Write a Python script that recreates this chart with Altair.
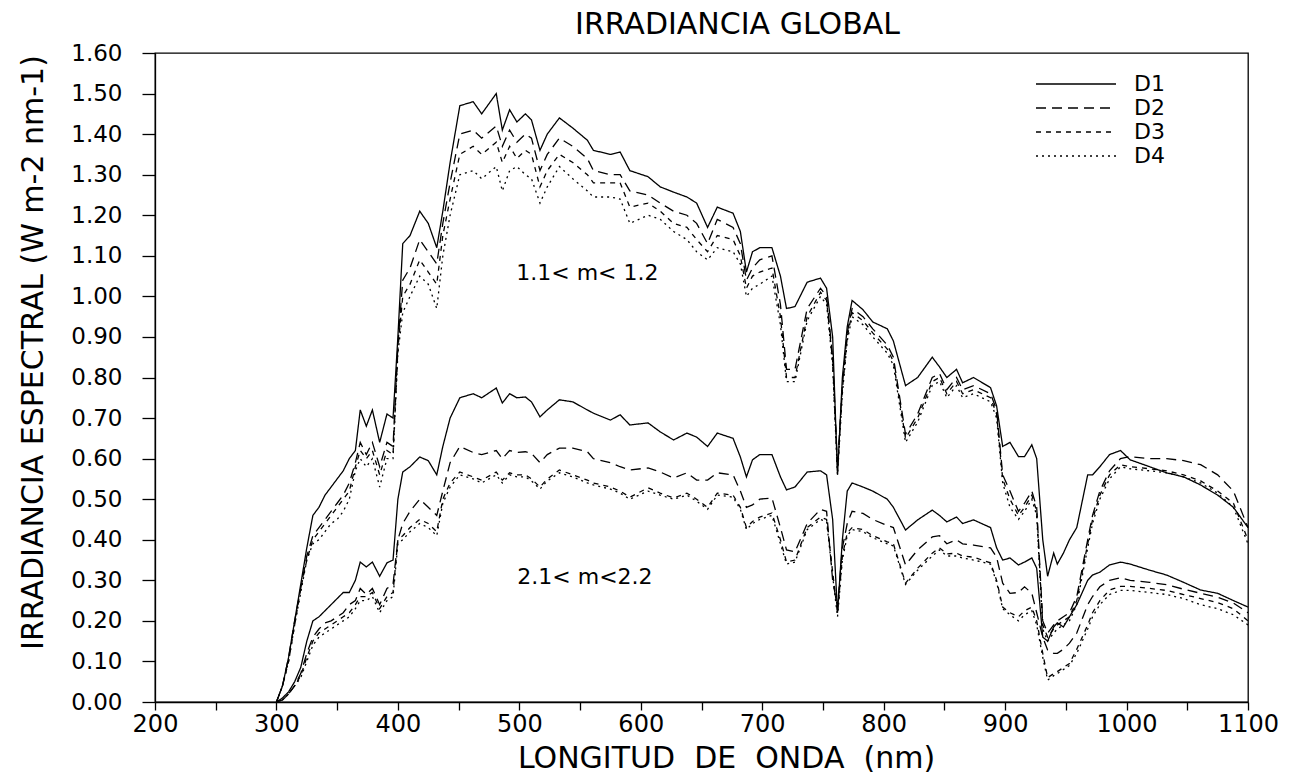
import altair as alt
import pandas as pd

# Wavelength grid (nm)
wavelength = [
    300, 305, 310, 315, 320, 325, 330, 335, 340, 345,
    350, 355, 360, 365, 369, 374, 379, 385, 391, 396,
    400, 404, 410, 418, 425, 432, 437, 443, 451, 462,
    469, 481, 486, 492, 498, 505, 510, 517, 523, 533,
    544, 556, 561, 575, 583, 591, 606, 616, 627, 638,
    646, 655, 663, 676, 682, 687, 692, 698, 708, 715,
    720, 727, 737, 748, 753, 758, 762, 766, 770, 774,
    783, 791, 803, 808, 818, 828, 840, 846, 852, 860,
    865, 874, 888, 893, 898, 904, 911, 916, 922, 926,
    931, 935, 940, 943, 948, 953, 959, 968, 972, 978,
    986, 995, 1003, 1019, 1033, 1047, 1061, 1075, 1088, 1100,
]

# 1.1 < m < 1.2
upper_d1 = [
    0.00, 0.04, 0.11, 0.20, 0.29, 0.38, 0.46, 0.48, 0.51, 0.53,
    0.55, 0.57, 0.60, 0.62, 0.72, 0.68, 0.72, 0.64, 0.71, 0.70,
    0.90, 1.13, 1.15, 1.21, 1.18, 1.12, 1.21, 1.33, 1.47, 1.48,
    1.45, 1.50, 1.41, 1.46, 1.43, 1.45, 1.435, 1.36, 1.40, 1.44,
    1.415, 1.385, 1.36, 1.35, 1.356, 1.31, 1.295, 1.27, 1.257, 1.245,
    1.23, 1.17, 1.22, 1.205, 1.16, 1.06, 1.11, 1.12, 1.12, 1.05,
    0.97, 0.975, 1.035, 1.045, 1.02, 0.90, 0.56, 0.80, 0.925, 0.99,
    0.967, 0.937, 0.92, 0.89, 0.78, 0.80, 0.85, 0.826, 0.80, 0.82,
    0.787, 0.80, 0.775, 0.73, 0.63, 0.64, 0.605, 0.605, 0.634, 0.60,
    0.40, 0.31, 0.367, 0.34, 0.367, 0.40, 0.43, 0.56, 0.56, 0.58,
    0.61, 0.62, 0.597, 0.58, 0.565, 0.555, 0.535, 0.51, 0.48, 0.43,
]
upper_d2 = [
    0.00, 0.04, 0.11, 0.20, 0.28, 0.36, 0.41, 0.43, 0.45, 0.47,
    0.49, 0.51, 0.54, 0.59, 0.64, 0.61, 0.64, 0.58, 0.64, 0.63,
    0.88, 1.04, 1.07, 1.14, 1.11, 1.08, 1.18, 1.28, 1.40, 1.41,
    1.39, 1.42, 1.37, 1.41, 1.38, 1.40, 1.39, 1.31, 1.35, 1.39,
    1.37, 1.34, 1.31, 1.30, 1.30, 1.26, 1.25, 1.23, 1.21, 1.20,
    1.18, 1.13, 1.19, 1.17, 1.13, 1.04, 1.07, 1.09, 1.10, 0.98,
    0.82, 0.82, 0.97, 1.02, 1.00, 0.85, 0.58, 0.78, 0.91, 0.97,
    0.95, 0.92, 0.88, 0.85, 0.66, 0.71, 0.80, 0.81, 0.77, 0.80,
    0.77, 0.78, 0.76, 0.72, 0.56, 0.52, 0.47, 0.49, 0.52, 0.48,
    0.20, 0.17, 0.19, 0.20, 0.21, 0.22, 0.26, 0.40, 0.46, 0.52,
    0.57, 0.60, 0.605, 0.60, 0.60, 0.595, 0.585, 0.56, 0.52, 0.43,
]
upper_d3 = [
    0.00, 0.04, 0.10, 0.19, 0.28, 0.35, 0.40, 0.42, 0.44, 0.46,
    0.48, 0.50, 0.52, 0.58, 0.62, 0.60, 0.62, 0.56, 0.62, 0.61,
    0.87, 1.00, 1.03, 1.09, 1.06, 1.03, 1.15, 1.24, 1.35, 1.37,
    1.35, 1.38, 1.33, 1.37, 1.34, 1.36, 1.35, 1.27, 1.31, 1.35,
    1.33, 1.30, 1.28, 1.28, 1.28, 1.22, 1.23, 1.21, 1.18, 1.17,
    1.14, 1.11, 1.15, 1.14, 1.10, 1.02, 1.05, 1.06, 1.07, 0.95,
    0.80, 0.80, 0.95, 1.01, 0.99, 0.84, 0.57, 0.77, 0.90, 0.96,
    0.94, 0.91, 0.87, 0.84, 0.65, 0.70, 0.79, 0.80, 0.76, 0.79,
    0.76, 0.77, 0.75, 0.71, 0.55, 0.50, 0.46, 0.48, 0.51, 0.47,
    0.19, 0.16, 0.18, 0.19, 0.20, 0.21, 0.25, 0.39, 0.45, 0.51,
    0.56, 0.585, 0.58, 0.575, 0.57, 0.56, 0.545, 0.52, 0.49, 0.40,
]
upper_d4 = [
    0.00, 0.04, 0.10, 0.19, 0.27, 0.35, 0.39, 0.40, 0.42, 0.44,
    0.45, 0.47, 0.50, 0.57, 0.60, 0.58, 0.60, 0.53, 0.60, 0.60,
    0.86, 0.96, 1.00, 1.05, 1.03, 0.97, 1.10, 1.20, 1.30, 1.31,
    1.29, 1.32, 1.26, 1.31, 1.32, 1.30, 1.29, 1.23, 1.27, 1.32,
    1.29, 1.26, 1.245, 1.245, 1.24, 1.18, 1.20, 1.19, 1.16, 1.14,
    1.11, 1.09, 1.12, 1.11, 1.08, 1.00, 1.02, 1.03, 1.05, 0.93,
    0.79, 0.79, 0.94, 1.00, 0.98, 0.83, 0.56, 0.76, 0.89, 0.95,
    0.93, 0.90, 0.86, 0.83, 0.64, 0.69, 0.78, 0.79, 0.75, 0.78,
    0.75, 0.76, 0.74, 0.70, 0.54, 0.48, 0.45, 0.47, 0.50, 0.46,
    0.18, 0.15, 0.17, 0.18, 0.19, 0.20, 0.24, 0.38, 0.44, 0.50,
    0.55, 0.58, 0.575, 0.57, 0.565, 0.555, 0.54, 0.515, 0.48, 0.39,
]

# 2.1 < m < 2.2
lower_d1 = [
    0.00, 0.01, 0.025, 0.05, 0.085, 0.15, 0.20, 0.21, 0.225, 0.24,
    0.255, 0.27, 0.27, 0.30, 0.345, 0.333, 0.345, 0.31, 0.343, 0.35,
    0.50, 0.567, 0.58, 0.604, 0.595, 0.56, 0.63, 0.70, 0.75, 0.76,
    0.75, 0.774, 0.737, 0.76, 0.75, 0.752, 0.74, 0.703, 0.72, 0.745,
    0.74, 0.72, 0.712, 0.695, 0.708, 0.683, 0.688, 0.666, 0.646, 0.663,
    0.653, 0.63, 0.663, 0.65, 0.604, 0.555, 0.597, 0.61, 0.61, 0.555,
    0.523, 0.53, 0.567, 0.57, 0.56, 0.45, 0.22, 0.40, 0.52, 0.54,
    0.53, 0.52, 0.50, 0.48, 0.424, 0.449, 0.473, 0.46, 0.444, 0.456,
    0.44, 0.449, 0.43, 0.38, 0.35, 0.355, 0.338, 0.345, 0.355, 0.33,
    0.16, 0.15, 0.185, 0.195, 0.185, 0.21, 0.24, 0.30, 0.313, 0.32,
    0.338, 0.345, 0.34, 0.325, 0.313, 0.295, 0.276, 0.268, 0.25, 0.234,
]
lower_d2 = [
    0.00, 0.005, 0.02, 0.04, 0.07, 0.12, 0.16, 0.18, 0.195, 0.20,
    0.21, 0.22, 0.24, 0.25, 0.28, 0.265, 0.28, 0.24, 0.28, 0.29,
    0.40, 0.44, 0.47, 0.50, 0.48, 0.46, 0.52, 0.59, 0.63, 0.615,
    0.61, 0.62, 0.60, 0.62, 0.615, 0.617, 0.613, 0.59, 0.61, 0.626,
    0.626, 0.617, 0.60, 0.59, 0.58, 0.572, 0.577, 0.567, 0.552, 0.565,
    0.547, 0.547, 0.565, 0.56, 0.52, 0.48, 0.486, 0.50, 0.503, 0.43,
    0.375, 0.37, 0.44, 0.475, 0.47, 0.30, 0.234, 0.38, 0.44, 0.47,
    0.465, 0.45, 0.435, 0.43, 0.338, 0.375, 0.407, 0.41, 0.39, 0.40,
    0.39, 0.387, 0.38, 0.357, 0.293, 0.268, 0.27, 0.284, 0.268, 0.22,
    0.16, 0.128, 0.12, 0.12, 0.13, 0.145, 0.17, 0.24, 0.26, 0.284,
    0.30, 0.306, 0.30, 0.295, 0.289, 0.278, 0.268, 0.258, 0.244, 0.22,
]
lower_d3 = [
    0.00, 0.005, 0.02, 0.04, 0.065, 0.11, 0.15, 0.17, 0.18, 0.19,
    0.20, 0.21, 0.22, 0.24, 0.26, 0.26, 0.27, 0.23, 0.26, 0.27,
    0.40, 0.41, 0.43, 0.45, 0.44, 0.42, 0.50, 0.54, 0.567, 0.555,
    0.547, 0.567, 0.547, 0.565, 0.56, 0.56, 0.55, 0.53, 0.55, 0.572,
    0.56, 0.547, 0.54, 0.53, 0.52, 0.505, 0.528, 0.515, 0.503, 0.515,
    0.50, 0.48, 0.515, 0.51, 0.48, 0.43, 0.445, 0.456, 0.466, 0.40,
    0.345, 0.35, 0.43, 0.456, 0.45, 0.32, 0.22, 0.36, 0.417, 0.43,
    0.425, 0.41, 0.395, 0.39, 0.293, 0.33, 0.367, 0.38, 0.365, 0.367,
    0.36, 0.357, 0.343, 0.30, 0.234, 0.22, 0.21, 0.225, 0.234, 0.20,
    0.12, 0.06, 0.07, 0.075, 0.085, 0.095, 0.13, 0.19, 0.22, 0.25,
    0.276, 0.285, 0.285, 0.28, 0.275, 0.265, 0.255, 0.245, 0.23, 0.20,
]
lower_d4 = [
    0.00, 0.005, 0.02, 0.04, 0.06, 0.10, 0.14, 0.16, 0.17, 0.18,
    0.19, 0.20, 0.21, 0.23, 0.25, 0.25, 0.26, 0.22, 0.25, 0.26,
    0.39, 0.40, 0.42, 0.44, 0.43, 0.41, 0.49, 0.53, 0.56, 0.55,
    0.54, 0.56, 0.54, 0.56, 0.555, 0.555, 0.545, 0.525, 0.545, 0.565,
    0.555, 0.54, 0.535, 0.525, 0.515, 0.50, 0.52, 0.51, 0.50, 0.51,
    0.495, 0.475, 0.51, 0.505, 0.475, 0.425, 0.44, 0.45, 0.46, 0.39,
    0.34, 0.345, 0.425, 0.45, 0.445, 0.31, 0.21, 0.35, 0.41, 0.425,
    0.42, 0.405, 0.39, 0.385, 0.29, 0.325, 0.36, 0.375, 0.36, 0.36,
    0.355, 0.35, 0.34, 0.295, 0.23, 0.215, 0.20, 0.215, 0.225, 0.19,
    0.11, 0.054, 0.065, 0.07, 0.08, 0.09, 0.12, 0.18, 0.21, 0.24,
    0.265, 0.275, 0.275, 0.27, 0.265, 0.255, 0.24, 0.23, 0.215, 0.19,
]

series_names = ["D1", "D2", "D3", "D4"]
dash_patterns = [[1, 0], [10, 6], [5, 5], [2, 4]]
group_names = ["1.1<m<1.2", "2.1<m<2.2"]

annot_labels = ["1.1< m< 1.2", "2.1< m<2.2"]
annot_wl = [556, 554]
annot_val = [1.058, 0.308]

x_ticks = list(range(200, 1101, 50))
y_ticks = [round(i * 0.1, 1) for i in range(17)]

rows = []
for grp, cols in zip(group_names, [[upper_d1, upper_d2, upper_d3, upper_d4],
                                   [lower_d1, lower_d2, lower_d3, lower_d4]]):
    for name, vals in zip(series_names, cols):
        for w, v in zip(wavelength, vals):
            rows.append({"wl": w, "val": v, "serie": name, "grupo": grp})
df = pd.DataFrame(rows)
ann = pd.DataFrame({"wl": annot_wl, "val": annot_val, "label": annot_labels})

FONT = "DejaVu Sans"

x_scale = alt.Scale(domain=[200, 1100], nice=False, zero=False)
y_scale = alt.Scale(domain=[0, 1.6], nice=False, zero=False)

lines = alt.Chart(df).mark_line(color="black", strokeWidth=1.3).encode(
    x=alt.X("wl:Q", scale=x_scale, axis=alt.Axis(
        values=x_ticks, format="d", grid=False,
        labelExpr="datum.value % 100 == 0 ? datum.label : ''",
        title="LONGITUD\u00a0\u00a0DE\u00a0\u00a0ONDA\u00a0\u00a0(nm)",
        titleX=571, titleY=65, titleAlign="center", titleBaseline="alphabetic",
        titleFontSize=30, titleFontWeight="normal", tickSize=8, labelPadding=2,
        labelFontSize=24, labelFlush=False, labelOverlap=False)),
    y=alt.Y("val:Q", scale=y_scale, axis=alt.Axis(
        values=y_ticks, format=".2f", grid=False,
        title="IRRADIANCIA ESPECTRAL (W m-2 nm-1)",
        titleX=-113, titleY=299, titleAlign="center", titleBaseline="alphabetic",
        titleAngle=270, titleFontSize=30, titleFontWeight="normal", tickSize=13,
        labelPadding=20, labelFontSize=23, labelFlush=False, labelOverlap=False)),
    strokeDash=alt.StrokeDash("serie:N", scale=alt.Scale(domain=series_names, range=dash_patterns),
                              legend=alt.Legend(title=None, orient="none", legendX=880, legendY=19,
                                                symbolType="stroke", symbolSize=6400, clipHeight=24,
                                                symbolStrokeColor="black", symbolStrokeWidth=1.3,
                                                labelFontSize=22, labelFont=FONT, labelOffset=17,
                                                padding=0, rowPadding=0, labelColor="black")),
    detail="grupo:N",
)

texts = alt.Chart(ann).mark_text(font=FONT, fontSize=22, color="black", align="center",
                                 baseline="middle").encode(
    x=alt.X("wl:Q", scale=x_scale), y=alt.Y("val:Q", scale=y_scale), text="label:N")

chart = alt.layer(lines, texts).properties(
    width=1093, height=649,
    background="white",
    title=alt.TitleParams("IRRADIANCIA GLOBAL", fontSize=30, font=FONT, fontWeight="normal",
                          anchor="middle", frame="group", offset=2, dx=36, color="black"),
    autosize=alt.AutoSizeParams(type="none"),
    padding={"left": 155, "top": 53, "right": 48, "bottom": 73},
).configure_view(stroke="black", strokeWidth=1.3).configure_axis(
    grid=False, domainColor="black", tickColor="black", tickWidth=1.3, domainWidth=1.3,
    labelColor="black", titleColor="black", labelFont=FONT, titleFont=FONT,
    titleFontWeight="normal", labelFontWeight="normal",
)

chart.save("out.html", embed_options={"renderer": "svg", "actions": False})
